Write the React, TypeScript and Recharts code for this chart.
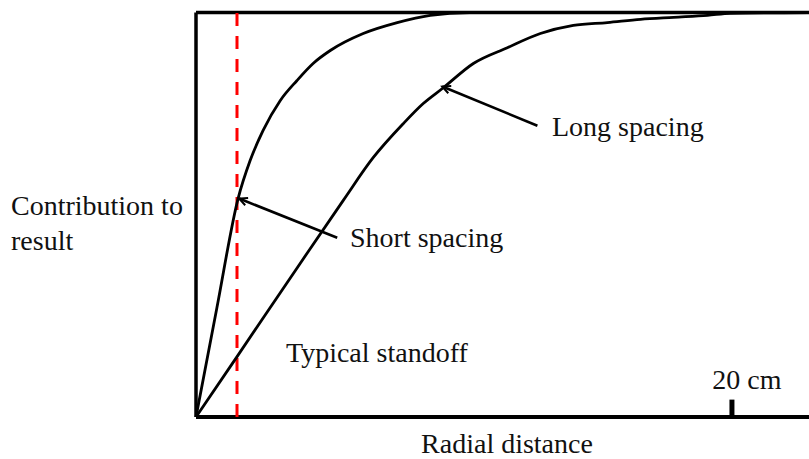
import { LineChart, Line, XAxis, YAxis, ReferenceLine } from "recharts"

// radial distance (cm) vs. relative contribution (0..1)
const shortSpacing = [
  { r: 0, v: 0 },
  { r: 0.78, v: 0.27 },
  { r: 1.57, v: 0.54 },
  { r: 2.02, v: 0.634 },
  { r: 2.5, v: 0.708 },
  { r: 3.14, v: 0.782 },
  { r: 3.77, v: 0.832 },
  { r: 4.37, v: 0.874 },
  { r: 5.01, v: 0.906 },
  { r: 6.24, v: 0.948 },
  { r: 7.51, v: 0.975 },
  { r: 8.74, v: 0.993 },
  { r: 10.2, v: 1 },
  { r: 22.95, v: 1 },
]

const longSpacing = [
  { r: 0, v: 0 },
  { r: 1.57, v: 0.153 },
  { r: 3.88, v: 0.379 },
  { r: 5.49, v: 0.535 },
  { r: 6.61, v: 0.641 },
  { r: 7.73, v: 0.725 },
  { r: 8.48, v: 0.775 },
  { r: 9.23, v: 0.814 },
  { r: 10.35, v: 0.874 },
  { r: 11.62, v: 0.913 },
  { r: 12.85, v: 0.948 },
  { r: 14.08, v: 0.968 },
  { r: 15.35, v: 0.975 },
  { r: 16.59, v: 0.983 },
  { r: 17.82, v: 0.988 },
  { r: 19.09, v: 0.993 },
  { r: 19.95, v: 0.998 },
  { r: 22.95, v: 1 },
]

const standoff = 1.53
const scaleMark = 20
const xMax = 22.95

// frame edges, scale mark and arrows (tail -> tip), in data coords
const leftEdge = [{ x: 0, y: 0 }, { x: 0, y: 1 }]
const bottomEdge = [{ x: 0, y: 0 }, { x: xMax, y: 0 }]
const topEdge = [{ x: 0, y: 1 }, { x: xMax, y: 1 }]
const scaleTick = [{ x: scaleMark, y: 0 }, { x: scaleMark, y: 0.043 }]
const shortArrow = [{ x: 5.27, y: 0.443 }, { x: 1.61, y: 0.54 }]
const longArrow = [{ x: 12.74, y: 0.72 }, { x: 9.19, y: 0.817 }]

const FONT = "'Liberation Serif', 'Times New Roman', serif"
const FS = 28
const textStyle = { fontFamily: FONT, fontSize: FS, fill: "#111" }

function Arrow(props: any) {
  const { x1, y1, x2, y2 } = props
  const ang = Math.atan2(y2 - y1, x2 - x1)
  const len = 9
  const spread = 0.45
  const ax = x2 - len * Math.cos(ang - spread)
  const ay = y2 - len * Math.sin(ang - spread)
  const bx = x2 - len * Math.cos(ang + spread)
  const by = y2 - len * Math.sin(ang + spread)
  return (
    <g>
      <line x1={x1} y1={y1} x2={x2} y2={y2} stroke="#000" strokeWidth={2.6} />
      <path d={`M${ax},${ay} L${x2},${y2} L${bx},${by}`} fill="none" stroke="#000" strokeWidth={2} />
    </g>
  )
}

function ScaleLabel(props: any) {
  const vb = props.viewBox || {}
  return (
    <text x={vb.x + 15} y={vb.y - 11} textAnchor="middle" {...textStyle}>
      {`${scaleMark} cm`}
    </text>
  )
}

function Labels() {
  return (
    <g>
      <text x={11} y={215} {...textStyle}>Contribution to</text>
      <text x={11} y={250} {...textStyle}>result</text>
      <text x={350} y={247} {...textStyle}>Short spacing</text>
      <text x={552} y={136} {...textStyle}>Long spacing</text>
      <text x={286} y={362} {...textStyle}>Typical standoff</text>
      <text x={507} y={453} textAnchor="middle" {...textStyle}>Radial distance</text>
    </g>
  )
}

export default function App() {
  return (
    <div style={{ position: "absolute", left: 0, top: 0, width: 809, height: 459, overflow: "hidden", background: "#fff" }}>
      {/* plot runs a couple of px past the right edge, so the frame stays open there */}
      <LineChart width={811} height={459} margin={{ top: 12.5, right: 0, left: 196, bottom: 42 }} style={{ display: "block" }}>
        <XAxis type="number" dataKey="r" domain={[0, xMax]} hide />
        <YAxis type="number" domain={[0, 1]} hide />
        <ReferenceLine segment={leftEdge} stroke="#000" strokeWidth={3.5} />
        <ReferenceLine segment={bottomEdge} stroke="#000" strokeWidth={4} />
        <ReferenceLine segment={topEdge} stroke="#000" strokeWidth={3.5} />
        <ReferenceLine segment={scaleTick} stroke="#000" strokeWidth={5} label={<ScaleLabel />} />
        <ReferenceLine x={standoff} stroke="#ff0000" strokeWidth={3} strokeDasharray="13 10" />
        <Line data={shortSpacing} dataKey="v" type="monotone" stroke="#000" strokeWidth={2.8} dot={false} isAnimationActive={false} />
        <Line data={longSpacing} dataKey="v" type="monotone" stroke="#000" strokeWidth={2.8} dot={false} isAnimationActive={false} />
        <ReferenceLine segment={shortArrow} shape={Arrow} />
        <ReferenceLine segment={longArrow} shape={Arrow} />
        <Labels />
      </LineChart>
    </div>
  )
}
